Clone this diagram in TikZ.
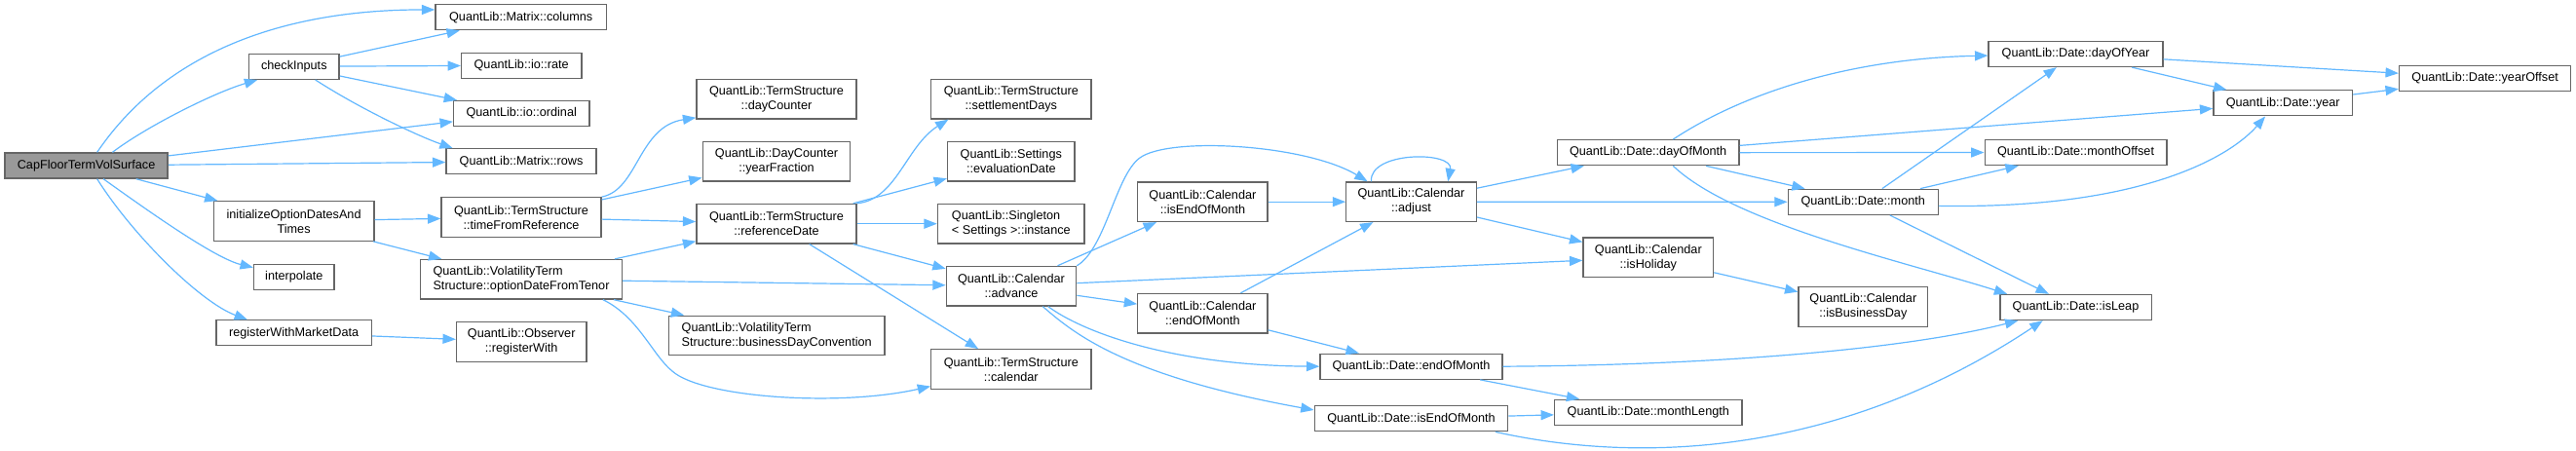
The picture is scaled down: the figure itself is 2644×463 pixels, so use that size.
\documentclass[tikz,border=0pt]{standalone}
\usepackage{fontspec}
\setmainfont{Liberation Sans}
\usetikzlibrary{arrows.meta}
\definecolor{edgeblue}{HTML}{63B8FF}
\definecolor{boxborder}{HTML}{666666}
\definecolor{rootfill}{HTML}{999999}
\begin{document}
\begin{tikzpicture}[x=0.75pt,y=-0.75pt,
  box/.style={draw=boxborder, line width=1pt, fill=white, inner sep=0pt,
    font=\fontsize{9.5}{11.25}\selectfont, align=center},
  lbox/.style={box, align=left},
  root/.style={box, fill=rootfill},
  sz/.style 2 args={minimum width=#1*0.75pt, minimum height=#2*0.75pt},
  edge/.style={draw=edgeblue, line width=0.9pt, -{Triangle[length=10pt,width=7.5pt]}}
]
\fill[white] (0,0) rectangle (2644,463);
\useasboundingbox (0,0) rectangle (2644,463);

% column 1
\node[root, sz={167}{26}] (cap) at (88.6,170) {CapFloorTermVolSurface};
% column 2
\node[box, sz={92.6}{26}] (check) at (301.8,68.3) {checkInputs};
\node[box, sz={164.6}{40.5}] (init) at (301.6,227) {initializeOptionDatesAnd\\Times};
\node[box, sz={82.5}{26}] (interp) at (301.8,284.3) {interpolate};
\node[box, sz={159.5}{26}] (regmd) at (301.6,341.8) {registerWithMarketData};
% column 3
\node[box, sz={175.5}{26}] (cols) at (534.7,17.7) {QuantLib::Matrix::columns};
\node[box, sz={123.3}{26}] (rate) at (535.2,67.2) {QuantLib::io::rate};
\node[box, sz={139.3}{26}] (ord) at (535.2,116.5) {QuantLib::io::ordinal};
\node[box, sz={154}{26}] (rows) at (535,165.8) {QuantLib::Matrix::rows};
\node[box, sz={164}{40.5}] (tfr) at (535,223) {QuantLib::TermStructure\\::timeFromReference};
\node[lbox, sz={207}{40.5}] (odft) at (535,286.8) {QuantLib::VolatilityTerm\\Structure::optionDateFromTenor};
\node[box, sz={133.4}{40.5}] (regw) at (535.2,351) {QuantLib::Observer\\::registerWith};
% column 4
\node[box, sz={164.2}{40.5}] (dayc) at (797,101.7) {QuantLib::TermStructure\\::dayCounter};
\node[box, sz={151.6}{40.5}] (yfrac) at (797,165.8) {QuantLib::DayCounter\\::yearFraction};
\node[box, sz={164.2}{40.5}] (refd) at (797,229.7) {QuantLib::TermStructure\\::referenceDate};
\node[lbox, sz={221.8}{40.5}] (bdc) at (797.2,344.5) {QuantLib::VolatilityTerm\\Structure::businessDayConvention};
% column 5
\node[box, sz={164.1}{40.5}] (settl) at (1037.8,101.7) {QuantLib::TermStructure\\::settlementDays};
\node[box, sz={130.5}{40.5}] (evald) at (1037.8,165.8) {QuantLib::Settings\\::evaluationDate};
\node[lbox, sz={150.7}{40.5}] (inst) at (1037.8,229.7) {QuantLib::Singleton\\< Settings >::instance};
\node[box, sz={133.4}{40.5}] (adv) at (1038,293.7) {QuantLib::Calendar\\::advance};
\node[box, sz={164.1}{40.5}] (tscal) at (1037.8,379) {QuantLib::TermStructure\\::calendar};
% column 6
\node[box, sz={133.2}{40.5}] (cieom) at (1234.4,207.2) {QuantLib::Calendar\\::isEndOfMonth};
\node[box, sz={133.2}{40.5}] (ceom) at (1234.4,321.7) {QuantLib::Calendar\\::endOfMonth};
% column 7
\node[box, sz={133.5}{40.5}] (adj) at (1448.5,207.2) {QuantLib::Calendar\\::adjust};
\node[box, sz={187}{26}] (deom) at (1448.5,376.2) {QuantLib::Date::endOfMonth};
\node[box, sz={198.6}{26}] (disem) at (1448.5,429.7) {QuantLib::Date::isEndOfMonth};
% column 8
\node[box, sz={186.6}{26}] (dom) at (1691.6,156.7) {QuantLib::Date::dayOfMonth};
\node[box, sz={133.6}{40.5}] (hol) at (1691.8,264.3) {QuantLib::Calendar\\::isHoliday};
\node[box, sz={192.4}{26}] (mlen) at (1691.8,423.3) {QuantLib::Date::monthLength};
% column 9
\node[box, sz={153.9}{26}] (month) at (1912.2,207.3) {QuantLib::Date::month};
\node[box, sz={132.6}{40.5}] (busd) at (1912.3,315) {QuantLib::Calendar\\::isBusinessDay};
% column 10
\node[box, sz={178.9}{26}] (doy) at (2130.5,55.5) {QuantLib::Date::dayOfYear};
\node[box, sz={186.7}{26}] (moff) at (2130.5,156.5) {QuantLib::Date::monthOffset};
\node[box, sz={155.3}{26}] (leap) at (2130.5,315.5) {QuantLib::Date::isLeap};
% column 11
\node[box, sz={142.6}{26}] (year) at (2343.2,105.8) {QuantLib::Date::year};
% column 12
\node[box, sz={176.2}{26}] (yoff) at (2550.6,80.5) {QuantLib::Date::yearOffset};

% edges
\draw[edge] (cap.51) .. controls (165,60) and (280,10) .. (cols.175);
\draw[edge] (cap.27.5) .. controls (150,130) and (220,95) .. (check.200);
\draw[edge] (cap) -- (ord);
\draw[edge] (cap) -- (rows);
\draw[edge] (cap) -- (init);
\draw[edge] (cap.-38) .. controls (150,215) and (220,265) .. (interp.167);
\draw[edge] (cap.-51) .. controls (135,240) and (205,310) .. (regmd.164);
\draw[edge] (check) -- (cols);
\draw[edge] (check) -- (rate);
\draw[edge] (check) -- (ord);
\draw[edge] (check.-32) .. controls (370,112) and (430,140) .. (rows.169);
\draw[edge] (init) -- (tfr);
\draw[edge] (init) -- (odft);
\draw[edge] (regmd) -- (regw);
\draw[edge] (tfr.north east) .. controls (655,195) and (655,130) .. (dayc.193);
\draw[edge] (tfr) -- (yfrac);
\draw[edge] (tfr) -- (refd);
\draw[edge] (odft) -- (refd);
\draw[edge] (odft) -- (adv);
\draw[edge] (odft) -- (bdc);
\draw[edge] (odft.-14) .. controls (655,325) and (670,365) .. (690,381)
  .. controls (720,408) and (860,418) .. (tscal.192);
\draw[edge] (refd.north east) .. controls (920,205) and (930,150) .. (settl.198);
\draw[edge] (refd) -- (evald);
\draw[edge] (refd) -- (inst);
\draw[edge] (refd) -- (adv);
\draw[edge] (refd) -- (tscal);
\draw[edge] (adv) -- (cieom);
\draw[edge] (adv.north east) .. controls (1135,255) and (1145,180) .. (1170,162)
  .. controls (1200,140) and (1340,148) .. (adj.155);
\draw[edge] (adv) -- (hol);
\draw[edge] (adv) -- (ceom);
\draw[edge] (adv.-29) .. controls (1110,340) and (1200,375) .. (deom.west);
\draw[edge] (adv.-33) .. controls (1100,340) and (1150,385) .. (disem.175);
\draw[edge] (cieom) -- (adj);
\draw[edge] (ceom) -- (adj);
\draw[edge] (ceom) -- (deom);
\draw[edge] (adj.153) .. controls (1405,155) and (1492,155) .. (adj.29);
\draw[edge] (adj) -- (dom);
\draw[edge] (adj) -- (month);
\draw[edge] (adj) -- (hol);
\draw[edge] (hol) -- (busd);
\draw[edge] (dom.28) .. controls (1790,95) and (1900,60) .. (doy.181);
\draw[edge] (dom) -- (year);
\draw[edge] (dom) -- (moff);
\draw[edge] (dom) -- (month);
\draw[edge] (dom.-28) .. controls (1780,230) and (1960,270) .. (leap.169);
\draw[edge] (month) -- (doy);
\draw[edge] (month) -- (moff);
\draw[edge] (month.-3) .. controls (2200,215) and (2290,160) .. (year.217);
\draw[edge] (month) -- (leap);
\draw[edge] (doy) -- (yoff);
\draw[edge] (doy) -- (year);
\draw[edge] (year) -- (yoff);
\draw[edge] (deom) -- (mlen);
\draw[edge] (disem) -- (mlen);
\draw[edge] (deom.east) .. controls (1750,375) and (1950,360) .. (leap.193);
\draw[edge] (disem.-9) .. controls (1700,480) and (1900,460) .. (leap.202);
\end{tikzpicture}
\end{document}
